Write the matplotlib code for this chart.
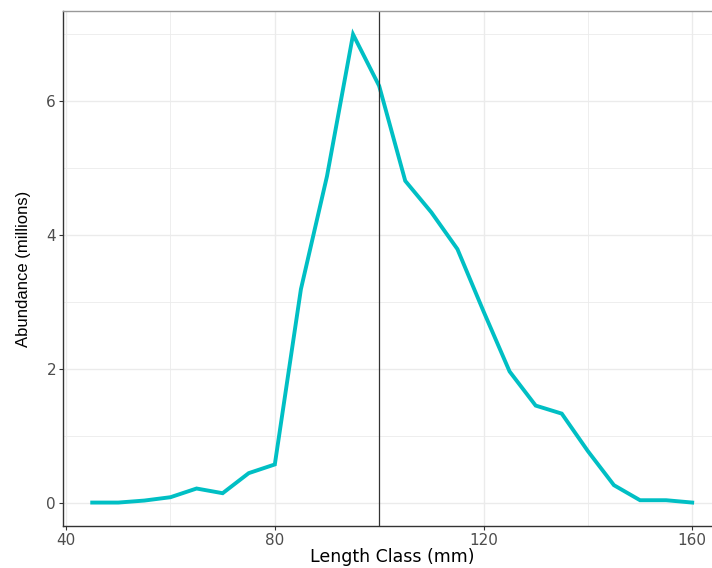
import matplotlib
matplotlib.use("Agg")
import matplotlib.pyplot as plt
from matplotlib.ticker import MultipleLocator

plt.rcParams['font.family'] = ['DejaVu Sans']

# length classes (mm) and abundance (millions)
length_class = [45, 50, 55, 60, 65, 70, 75, 80, 85, 90, 95, 100,
                105, 110, 115, 120, 125, 130, 135, 140, 145, 150, 155, 160]
abundance = [0.0, 0.0, 0.03, 0.08, 0.21, 0.14, 0.44, 0.57, 3.19, 4.88, 7.0, 6.23,
             4.81, 4.34, 3.79, 2.86, 1.96, 1.45, 1.33, 0.77, 0.26, 0.035, 0.035, 0.0]
ref_length = 100
x_ticks = [40, 80, 120, 160]
y_ticks = [0, 2, 4, 6]

fig = plt.figure(figsize=(7.12, 5.68), dpi=100)
ax = fig.add_axes([0.0885, 0.074, 0.95, 0.9066])

####################
# gridlines like theme_bw
ax.xaxis.set_minor_locator(MultipleLocator(20))
ax.yaxis.set_minor_locator(MultipleLocator(1))
ax.grid(which='major', color='#EBEBEB', lw=1.0)
ax.grid(which='minor', color='#EBEBEB', lw=0.6)
ax.set_axisbelow(True)

ax.plot(length_class, abundance, color='#00BFC4', lw=2.8, solid_joinstyle='miter')
ax.axvline(ref_length, color='#333333', lw=0.9)

x_lo = 39.4
x_span = 0.95 * 712 / 5.217
ax.set_xlim(x_lo, x_lo + x_span)
ax.set_ylim(-0.35, 7.35)
ax.set_xticks(x_ticks)
ax.set_yticks(y_ticks)
ax.tick_params(which='major', length=3, width=0.8, color='#333333',
               labelsize=11, labelcolor='#4D4D4D', pad=2)
ax.tick_params(which='minor', length=0)

for side in ['left', 'bottom']:
    ax.spines[side].set_color('#333333')
    ax.spines[side].set_linewidth(1.0)
ax.spines['top'].set_color('#999999')
ax.spines['top'].set_linewidth(1.0)
ax.spines['right'].set_visible(False)

ax.set_xlabel('Length Class (mm)', fontsize=12.5, labelpad=0)
# centre of the full (cropped) panel, as in the original
ax.xaxis.label.set_x((102.5 - x_lo) / x_span)
ax.set_ylabel('Abundance (millions)', fontsize=12, labelpad=11,
              family=['Liberation Sans', 'DejaVu Sans'])

fig.savefig('out.png', dpi=100)
